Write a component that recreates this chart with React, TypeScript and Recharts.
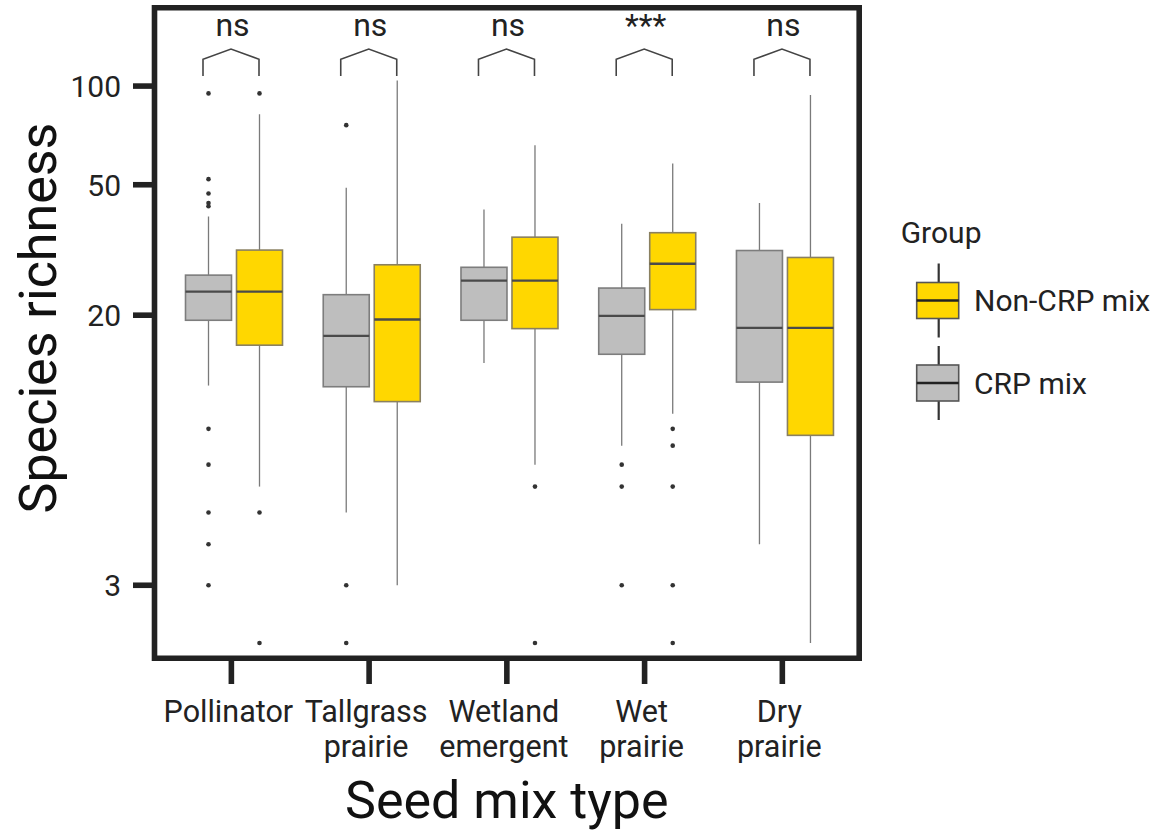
import React from "react";
import { ComposedChart, Bar, XAxis, YAxis, Legend, Label, ReferenceArea } from "recharts";

const categories = ["Pollinator", "Tallgrass prairie", "Wetland emergent", "Wet prairie", "Dry prairie"];
const tickLabelLines = [["Pollinator"], ["Tallgrass", "prairie"], ["Wetland", "emergent"], ["Wet", "prairie"], ["Dry", "prairie"]];
const yTicks = [3, 20, 50, 100];
const yDomain = [1.796, 173.3];

// CRP mix (grey)
const crpLow = [12.2, 5, 14.3, 8, 4];
const crpQ1 = [19.3, 12.1, 19.3, 15.2, 12.5];
const crpMedian = [23.6, 17.3, 25.5, 19.9, 18.3];
const crpQ3 = [26.5, 23.1, 28, 24.2, 31.5];
const crpHigh = [40, 49, 42, 38, 44];
const crpOutliers = [[95, 52, 47, 44, 43, 9, 7, 5, 4, 3], [76, 3, 2], [], [7, 6, 3], []];

// Non-CRP mix (yellow)
const nonLow = [6, 3, 7, 10, 2];
const nonQ1 = [16.2, 10.9, 18.2, 20.8, 8.6];
const nonMedian = [23.6, 19.4, 25.5, 28.7, 18.3];
const nonQ3 = [31.6, 28.5, 34.6, 35.7, 30];
const nonHigh = [82, 104, 66, 58, 94];
const nonOutliers = [[95, 5, 2], [], [6, 2], [9, 8, 6, 3, 2], []];

const signif = ["ns", "ns", "ns", "***", "ns"];
// bracket: foot, shoulder, peak, label baseline (in y units)
const bracketLevels = [107.3, 120.7, 129.7, 142];

const BAR_SIZE = 46;
const BAR_GAP = 5;
const BOX_SHIFT = 3;
const FONT = "Roboto, 'Noto Sans', sans-serif";

const rows = categories.map((name, i) => ({
  name,
  sig: signif[i],
  crp: [crpQ1[i], crpQ3[i]],
  nonCrp: [nonQ1[i], nonQ3[i]],
  crpBox: { low: crpLow[i], q1: crpQ1[i], med: crpMedian[i], q3: crpQ3[i], high: crpHigh[i], out: crpOutliers[i] },
  nonCrpBox: { low: nonLow[i], q1: nonQ1[i], med: nonMedian[i], q3: nonQ3[i], high: nonHigh[i], out: nonOutliers[i] },
}));

const looks = {
  crpBox: { fill: "#BEBEBE", stroke: "#7d7d7d" },
  nonCrpBox: { fill: "#FFD700", stroke: "#8a8060" },
};

function makeBoxShape(key: "crpBox" | "nonCrpBox", withBracket: boolean) {
  return (props: any) => {
    const { x, y, width, height, payload } = props;
    const s = payload[key];
    const look = looks[key];
    const py = (v: number) =>
      y + (height * (Math.log(s.q3) - Math.log(v))) / (Math.log(s.q3) - Math.log(s.q1));
    const bx = x + BOX_SHIFT;
    const cx = bx + width / 2;
    let bracket = null;
    if (withBracket) {
      const mid = x + width + BAR_GAP / 2;
      const l = mid - 28;
      const r = mid + 28;
      const [foot, shoulder, peak, lab] = bracketLevels.map(py);
      bracket = (
        <g>
          <polyline
            points={`${l},${foot} ${l},${shoulder} ${mid},${peak} ${r},${shoulder} ${r},${foot}`}
            fill="none"
            stroke="#444"
            strokeWidth={1.6}
          />
          <text x={mid + 1.5} y={lab} textAnchor="middle" fontFamily={FONT} fontSize={32} fill="#222">
            {payload.sig}
          </text>
        </g>
      );
    }
    return (
      <g>
        <line x1={cx} x2={cx} y1={py(s.high)} y2={y} stroke="#7a7a7a" strokeWidth={1.3} />
        <line x1={cx} x2={cx} y1={y + height} y2={py(s.low)} stroke="#7a7a7a" strokeWidth={1.3} />
        <rect x={bx} y={y} width={width} height={height} fill={look.fill} stroke={look.stroke} strokeWidth={1.6} />
        <line x1={bx} x2={bx + width} y1={py(s.med)} y2={py(s.med)} stroke="#4a4a4a" strokeWidth={2.4} />
        {s.out.map((v: number, k: number) => (
          <circle key={k} cx={cx} cy={py(v)} r={2.3} fill="#333" />
        ))}
        {bracket}
      </g>
    );
  };
}

const XTick = (props: any) => {
  const { x, y, index } = props;
  const lines = tickLabelLines[index] || [];
  return (
    <text x={x} y={y} textAnchor="middle" fontFamily={FONT} fontSize={30.5} fill="#222">
      {lines.map((t, k) => (
        <tspan key={k} x={x - 3} dy={k === 0 ? 37.5 : 35}>
          {t}
        </tspan>
      ))}
    </text>
  );
};

const YTick = (props: any) => {
  const { x, y, payload } = props;
  return (
    <text x={x} y={y} dy={11} textAnchor="end" fontFamily={FONT} fontSize={30} fill="#222">
      {payload.value}
    </text>
  );
};

const renderLegend = (props: any) => {
  const items = [...(props.payload || [])].reverse();
  return (
    <svg width={282} height={230} style={{ display: "block" }}>
      <text x={20.7} y={33} fontFamily={FONT} fontSize={30} fill="#222">
        Group
      </text>
      {items.map((it: any, i: number) => {
        const c = 90.5 + i * 82.5;
        return (
          <g key={it.value}>
            <line x1={58.7} x2={58.7} y1={c - 37} y2={c + 37} stroke="#333" strokeWidth={2.2} />
            <rect x={36.7} y={c - 18} width={42} height={36} fill={it.color} stroke="#555" strokeWidth={1.6} />
            <line x1={36.7} x2={78.7} y1={c} y2={c} stroke="#222" strokeWidth={2.4} />
            <text x={94} y={c + 10.7} fontFamily={FONT} fontSize={30} fill="#222">
              {it.value}
            </text>
          </g>
        );
      })}
    </svg>
  );
};

const renderYTitle = () => (
  <text
    transform="translate(38,318) rotate(-90)"
    textAnchor="middle"
    dominantBaseline="central"
    fontFamily={FONT}
    fontSize={52}
    fill="#111"
  >
    Species richness
  </text>
);

export default function App() {
  return (
    <div style={{ position: "absolute", left: 0, top: 0, background: "#fff" }}>
      <ComposedChart
        width={1162}
        height={832}
        data={rows}
        margin={{ top: 7.8, right: 302.8, bottom: 0, left: 0 }}
        barSize={BAR_SIZE}
        barGap={BAR_GAP}
      >
        <XAxis
          dataKey="name"
          height={173.7}
          padding={{ left: 8, right: 8 }}
          axisLine={false}
          tickLine={{ stroke: "#222", strokeWidth: 5.6 }}
          tickSize={25.7}
          tickMargin={0}
          tick={<XTick />}
          interval={0}
        >
          <Label value="Seed mix type" position="insideBottom" offset={14} fontFamily={FONT} fontSize={52} fill="#111" />
        </XAxis>
        <XAxis xAxisId="frame" dataKey="name" hide />
        <YAxis
          scale="log"
          domain={yDomain}
          allowDataOverflow
          ticks={yTicks}
          width={154.5}
          axisLine={false}
          tickLine={{ stroke: "#222", strokeWidth: 5.6 }}
          tickSize={21.5}
          tickMargin={12}
          tick={<YTick />}
        >
          <Label content={renderYTitle} />
        </YAxis>
        <Legend
          layout="horizontal"
          align="center"
          verticalAlign="middle"
          content={renderLegend}
          wrapperStyle={{ left: 880, top: 210, width: 282, height: 230 }}
        />
        <Bar dataKey="crp" name="CRP mix" fill="#BEBEBE" shape={makeBoxShape("crpBox", true)} isAnimationActive={false} />
        <Bar dataKey="nonCrp" name="Non-CRP mix" fill="#FFD700" shape={makeBoxShape("nonCrpBox", false)} isAnimationActive={false} />
        <ReferenceArea
          xAxisId="frame"
          y1={yDomain[0]}
          y2={yDomain[1]}
          fill="none"
          stroke="#222"
          strokeWidth={5.6}
          ifOverflow="visible"
        />
      </ComposedChart>
    </div>
  );
}
